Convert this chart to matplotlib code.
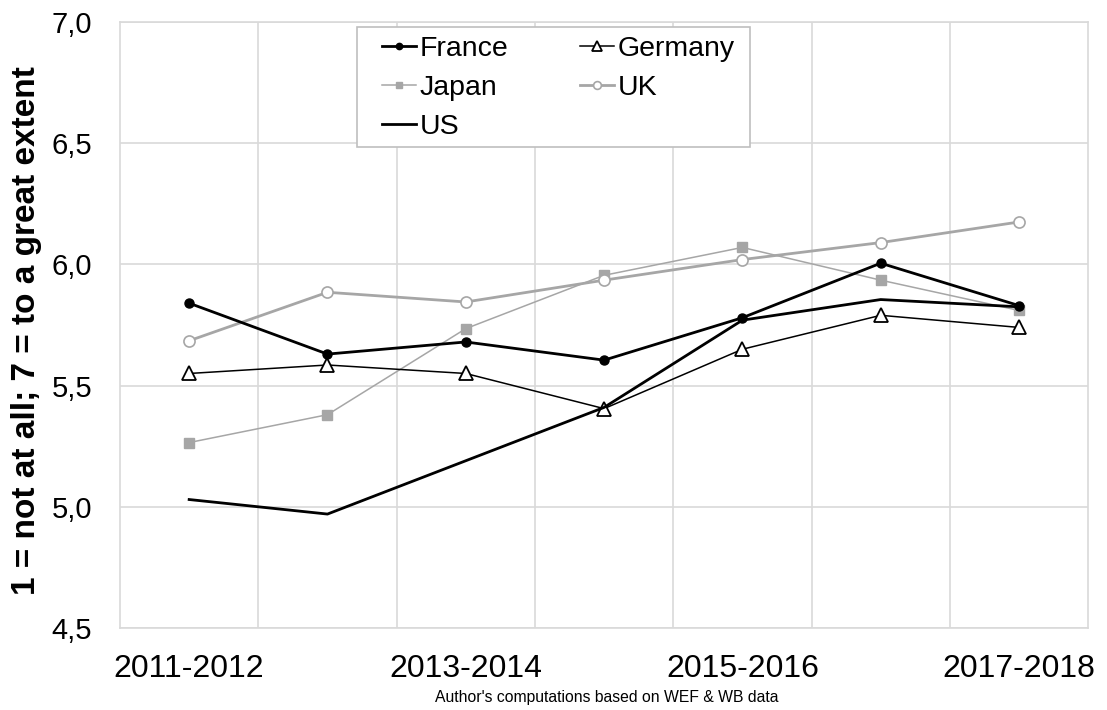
import matplotlib
matplotlib.use("Agg")
import matplotlib.pyplot as plt
from matplotlib.patches import Rectangle
from matplotlib.ticker import FixedLocator

plt.rcParams['font.family'] = ['Liberation Sans', 'DejaVu Sans']

periods = ["2011-2012", "2012-2013", "2013-2014", "2014-2015",
           "2015-2016", "2016-2017", "2017-2018"]

france = [5.84, 5.63, 5.68, 5.605, 5.78, 6.005, 5.83]
germany = [5.55, 5.585, 5.55, 5.405, 5.65, 5.79, 5.74]
japan = [5.265, 5.38, 5.735, 5.955, 6.07, 5.935, 5.81]
uk = [5.685, 5.885, 5.845, 5.935, 6.02, 6.09, 6.175]
us = [5.03, 4.97, 5.19, 5.41, 5.77, 5.855, 5.825]

y_ticks = [4.5, 5.0, 5.5, 6.0, 6.5, 7.0]

BLACK = "#000000"
GREY = "#a6a6a6"
GRID = "#d9d9d9"


def main():
    fig = plt.figure(figsize=(11.07, 7.10), dpi=100)
    ax = fig.add_axes([0.1084, 0.1155, 0.8746, 0.8535])

    x = list(range(len(periods)))

    l_fr, = ax.plot(x, france, color=BLACK, lw=2.0, marker='o', ms=6.5,
                    mfc=BLACK, mec=BLACK, label="France", zorder=5)
    l_de, = ax.plot(x, germany, color=BLACK, lw=1.1, marker='^', ms=10,
                    mfc='white', mec=BLACK, mew=1.3, label="Germany", zorder=4)
    l_jp, = ax.plot(x, japan, color=GREY, lw=1.1, marker='s', ms=7,
                    mfc=GREY, mec=GREY, label="Japan", zorder=3)
    l_uk, = ax.plot(x, uk, color=GREY, lw=2.0, marker='o', ms=8,
                    mfc='white', mec=GREY, mew=1.2, label="UK", zorder=3)
    l_us, = ax.plot(x, us, color=BLACK, lw=2.0, label="US", zorder=4)

    ax.set_xlim(-0.5, len(periods) - 0.5)
    ax.set_ylim(4.5, 7.0)

    # gridlines sit between the categories, labels on every other period
    ax.xaxis.set_minor_locator(FixedLocator([i + 0.5 for i in range(len(periods) - 1)]))
    ax.set_xticks(x[::2])
    ax.set_xticklabels(periods[::2])
    ax.grid(True, which='minor', axis='x', color=GRID, lw=1.2)
    ax.grid(True, which='major', axis='y', color=GRID, lw=1.2)
    ax.set_axisbelow(True)

    ax.set_yticks(y_ticks)
    ax.set_yticklabels([f"{v:.1f}".replace('.', ',') for v in y_ticks])

    ax.tick_params(axis='x', which='both', length=0, pad=19, labelsize=23)
    ax.tick_params(axis='y', which='both', length=0, pad=20, labelsize=21)

    for s in ax.spines.values():
        s.set_color(GRID)
        s.set_linewidth(1.2)

    ax.set_ylabel("1 = not at all; 7 = to a great extent", fontsize=24,
                  fontweight='bold', labelpad=0)
    ax.yaxis.set_label_coords(-0.081, 0.49)

    # legend box drawn by hand so the padding matches the Excel frame
    ax.add_patch(Rectangle((0.2448, 0.7937), 0.406, 0.198, transform=ax.transAxes,
                           facecolor='white', edgecolor="#bfbfbf", lw=1.2,
                           zorder=6, clip_on=False))
    leg = ax.legend(handles=[l_fr, l_jp, l_us, l_de, l_uk], ncol=2,
                    loc='upper left', bbox_to_anchor=(0.262, 0.991),
                    borderaxespad=0, fontsize=20.5, frameon=False,
                    handlelength=1.2, handletextpad=0.12, columnspacing=2.5,
                    labelspacing=0.46, borderpad=0.3, markerscale=0.7)
    leg.set_zorder(7)

    fig.text(0.548, 0.018, "Author's computations based on WEF & WB data",
             ha='center', va='center', fontsize=11.3)

    fig.savefig("out.png", dpi=100)


if __name__ == '__main__':
    main()
